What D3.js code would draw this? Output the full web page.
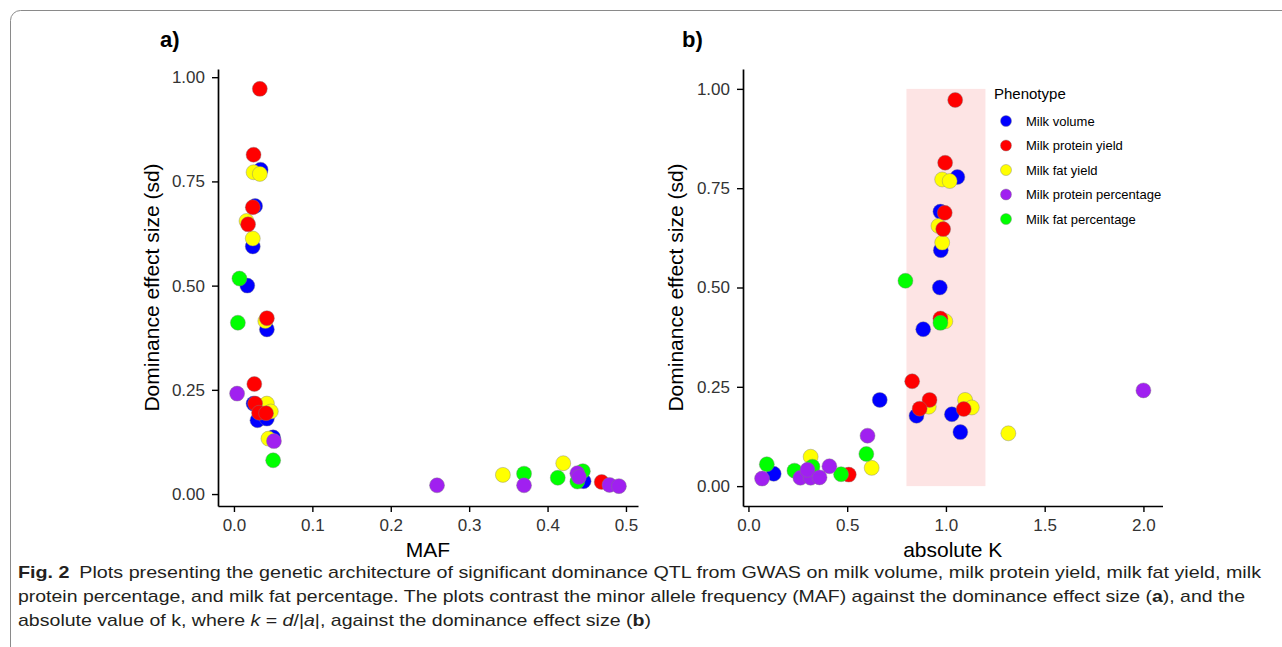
<!DOCTYPE html>
<html><head><meta charset="utf-8">
<script src="https://cdn.jsdelivr.net/npm/d3@7"></script>
<style>
body{margin:0;background:#fff}
svg{display:block}
</style>
</head><body>
<svg id="c" width="1282" height="647"></svg>
<script>
// ---------------- DATA ----------------
const phenotypes = ["Milk volume", "Milk protein yield", "Milk fat yield", "Milk protein percentage", "Milk fat percentage"];
// each entry: [MAF, absolute K, dominance effect size (sd)]
const milkVolume = [
  [0.034, 1.058, 0.778], [0.027, 0.972, 0.691], [0.024, 0.974, 0.594], [0.017, 0.969, 0.500],
  [0.042, 0.885, 0.395], [0.025, 0.665, 0.217], [0.030, 0.851, 0.177], [0.042, 1.030, 0.181],
  [0.050, 1.073, 0.136], [0.446, 0.128, 0.031]
];
const milkProteinYield = [
  [0.033, 1.047, 0.972], [0.025, 0.996, 0.814], [0.024, 0.994, 0.688], [0.018, 0.986, 0.647],
  [0.042, 0.972, 0.422], [0.026, 0.829, 0.264], [0.027, 0.917, 0.217], [0.032, 0.867, 0.195],
  [0.041, 1.090, 0.194], [0.469, 0.508, 0.029]
];
const milkFatYield = [
  [0.025, 0.981, 0.772], [0.033, 1.019, 0.768], [0.016, 0.962, 0.655], [0.024, 0.981, 0.613],
  [0.040, 0.997, 0.415], [0.035, 0.913, 0.200], [0.042, 1.097, 0.217], [0.047, 1.131, 0.198],
  [0.044, 1.316, 0.133], [0.343, 0.624, 0.046], [0.420, 0.315, 0.074]
];
const milkProteinPercentage = [
  [0.004, 2.000, 0.241], [0.051, 0.603, 0.127], [0.259, 0.263, 0.021], [0.370, 0.315, 0.021],
  [0.438, 0.410, 0.050], [0.440, 0.299, 0.041], [0.479, 0.360, 0.022], [0.491, 0.069, 0.019]
];
const milkFatPercentage = [
  [0.007, 0.795, 0.517], [0.005, 0.972, 0.411], [0.050, 0.597, 0.081], [0.370, 0.324, 0.049],
  [0.413, 0.233, 0.039], [0.445, 0.093, 0.055], [0.438, 0.469, 0.030]
];
const seriesData = [milkVolume, milkProteinYield, milkFatYield, milkProteinPercentage, milkFatPercentage];
const yTicks = [0, 0.25, 0.5, 0.75, 1];
const mafTicks = [0, 0.1, 0.2, 0.3, 0.4, 0.5];
const kTicks = [0, 0.5, 1, 1.5, 2];
const kBandX = [0.8, 1.2];
const kBandY = [0, 1];

// ---------------- STYLE ----------------
const phenoColors = ["#0000FF", "#FF0000", "#FFFF00", "#A020F0", "#00FF00"];
const drawOrder = [0, 2, 1, 4, 3];
const FONT = "'Liberation Sans', Arial, Helvetica, sans-serif";

const svg = d3.select("#c");
svg.append("rect").attr("width", 1282).attr("height", 647).attr("fill", "#fff");
// figure frame
svg.append("rect").attr("x", 10.5).attr("y", 10.5).attr("width", 1400).attr("height", 800)
  .attr("rx", 10).attr("fill", "none").attr("stroke", "#8a8a8a").attr("stroke-width", 1);

function ext(vals, pad) {
  const lo = d3.min(vals), hi = d3.max(vals), s = hi - lo;
  return [lo - s * pad, hi + s * pad];
}

const allPts = seriesData.flat();

function panel(opts) {
  const g = svg.append("g");
  const x = d3.scaleLinear().domain(opts.xDomain).range(opts.xRange);
  const y = d3.scaleLinear().domain(opts.yDomain).range([506, 69]);

  if (opts.band) {
    g.append("rect")
      .attr("x", x(opts.band[0][0])).attr("width", x(opts.band[0][1]) - x(opts.band[0][0]))
      .attr("y", y(opts.band[1][1])).attr("height", y(opts.band[1][0]) - y(opts.band[1][1]))
      .attr("fill", "#fde4e4");
  }

  const ya = g.append("g").attr("transform", `translate(${opts.xRange[0]},0)`)
    .call(d3.axisLeft(y).tickValues(yTicks).tickFormat(d3.format(".2f")).tickSize(6).tickSizeOuter(0).tickPadding(7));
  const xa = g.append("g").attr("transform", `translate(0,506)`)
    .call(d3.axisBottom(x).tickValues(opts.xTicks).tickFormat(d3.format(".1f")).tickSize(6).tickSizeOuter(0).tickPadding(7));
  [ya, xa].forEach(a => {
    a.select(".domain").attr("stroke", "#000").attr("stroke-width", 1.7);
    a.selectAll(".tick line").attr("stroke", "#000").attr("stroke-width", 1.4);
    a.selectAll(".tick text").attr("fill", "#333").style("font-family", FONT).style("font-size", "17px");
  });

  // points
  drawOrder.forEach(si => {
    g.append("g").selectAll("circle").data(seriesData[si]).join("circle")
      .attr("cx", d => x(d[opts.xi])).attr("cy", d => y(d[2])).attr("r", 7.5)
      .attr("fill", phenoColors[si]).attr("stroke", "#808080").attr("stroke-opacity", 0.6).attr("stroke-width", 0.7);
  });

  // titles
  const cx = (opts.xRange[0] + opts.xRange[1]) / 2;
  g.append("text").attr("x", cx).attr("y", 557).attr("text-anchor", "middle")
    .style("font-family", FONT).style("font-size", "21px").attr("fill", "#000").text(opts.xTitle);
  g.append("text").attr("transform", `translate(${opts.yTitleX},${(506 + 69) / 2}) rotate(-90)`)
    .attr("text-anchor", "middle").style("font-family", FONT).style("font-size", "21px").attr("fill", "#000")
    .text("Dominance effect size (sd)");
  g.append("text").attr("x", opts.labelX).attr("y", 47).style("font-family", FONT)
    .style("font-size", "22px").style("font-weight", "bold").attr("fill", "#000").text(opts.label);
  return {x, y};
}

const yDom = ext(allPts.map(d => d[2]), 0.05);
panel({
  xi: 0, xDomain: ext(allPts.map(d => d[0]), 0.05), xRange: [218, 638], yDomain: yDom,
  xTicks: mafTicks, xTitle: "MAF", yTitleX: 159, label: "a)", labelX: 160
});
panel({
  xi: 1, xDomain: ext(allPts.map(d => d[1]), 0.05), xRange: [743, 1162.5], yDomain: ext([0, 1], 0.05),
  xTicks: kTicks, xTitle: "absolute K", yTitleX: 683, label: "b)", labelX: 682,
  band: [kBandX, kBandY]
});

// legend
const lg = svg.append("g");
lg.append("text").attr("x", 994).attr("y", 99).style("font-family", FONT).style("font-size", "15px")
  .attr("fill", "#000").text("Phenotype");
phenotypes.forEach((p, i) => {
  const yy = 121 + i * 24.5;
  lg.append("circle").attr("cx", 1006).attr("cy", yy).attr("r", 5.5).attr("fill", phenoColors[i])
    .attr("stroke", "#808080").attr("stroke-opacity", 0.6).attr("stroke-width", 0.7);
  lg.append("text").attr("x", 1026).attr("y", yy + 4.5).style("font-family", FONT).style("font-size", "13px")
    .attr("fill", "#000").text(p);
});

// caption
const CF = "'Liberation Sans', Arial, sans-serif";
const capLines = [
  {y: 578, w: 1243, parts: [["Fig. 2", "b"], ["\u2002Plots presenting the genetic architecture of significant dominance QTL from GWAS on milk volume, milk protein yield, milk fat yield, milk", ""]]},
  {y: 602, w: 1227, parts: [["protein percentage, and milk fat percentage. The plots contrast the minor allele frequency (MAF) against the dominance effect size (", ""], ["a", "b"], ["), and the", ""]]},
  {y: 626, w: 633, parts: [["absolute value of k, where ", ""], ["k", "i"], [" = ", ""], ["d", "i"], ["/|", ""], ["a", "i"], ["|, against the dominance effect size (", ""], ["b", "b"], [")", ""]]}
];
capLines.forEach(L => {
  const t = svg.append("text").attr("x", 18).attr("y", L.y).style("font-family", CF).style("font-size", "17px")
    .attr("fill", "#231f20").attr("textLength", L.w).attr("lengthAdjust", "spacingAndGlyphs")
    .attr("xml:space", "preserve").style("white-space", "pre");
  L.parts.forEach(([s, f]) => {
    const ts = t.append("tspan").text(s);
    if (f === "b") ts.style("font-weight", "bold");
    if (f === "i") ts.style("font-style", "italic");
  });
});
</script>
</body></html>
